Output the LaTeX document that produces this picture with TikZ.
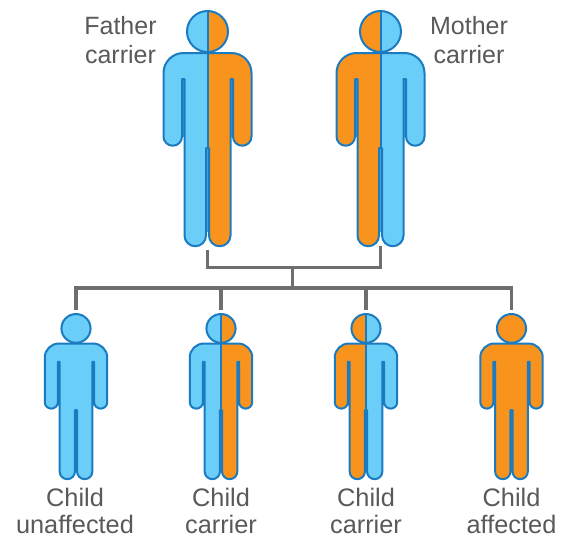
\documentclass[tikz,border=0pt]{standalone}
\usepackage{fontspec}
\setmainfont{Liberation Sans}
\definecolor{skyfill}{HTML}{6ACEF8}
\definecolor{orfill}{HTML}{F8931D}
\definecolor{edgeblue}{HTML}{1B7BC0}
\definecolor{slitblue}{HTML}{4FA6DC}
\definecolor{wire}{HTML}{6D6E70}
\definecolor{txt}{HTML}{58595B}
\tikzset{
  outline/.style={draw=edgeblue,line width=1.5pt,line join=round},
  connector/.style={draw=wire,line width=2.5pt,line join=miter},
  label/.style={text=txt,align=center,inner sep=0pt},
  parentlabel/.style={label,font=\fontsize{18.75pt}{22.3pt}\selectfont},
  childlabel/.style={label,font=\fontsize{19pt}{20.25pt}\selectfont},
}
\newcommand{\bodyshape}{
  (-44,73) arc[start angle=180,end angle=270,radius=20]
  -- (24,53) arc[start angle=270,end angle=360,radius=20]
  -- (44,136.5) arc[start angle=0,end angle=180,radius=9.25]
  -- (25.5,79) -- (23,79) -- (23,235.5)
  arc[start angle=0,end angle=180,radius=10.75]
  -- (1.5,148) -- (-1.5,148) -- (-1.5,235.5)
  arc[start angle=0,end angle=180,radius=10.75]
  -- (-23,79) -- (-25.5,79) -- (-25.5,136.5)
  arc[start angle=0,end angle=180,radius=9.25] -- cycle
}
% #1 name, #2 centre x, #3 y shift, #4 x scale, #5 y scale, #6 left colour, #7 right colour, #8 midline style
\newcommand{\personfig}[8]{
  \begin{scope}[shift={(#2,#3)},xscale=#4,yscale=#5]
    \coordinate (#1top) at (0,11);
    \coordinate (#1foot) at (0,246);
    \fill[slitblue] (-25.5,79) rectangle (-23,137);
    \fill[slitblue] (23,79) rectangle (25.5,137);
    \fill[slitblue] (-1.5,148) rectangle (1.5,232);
    \fill[#6] \bodyshape;
    \fill[#6] (0,31.5) circle[radius=20.5];
    \begin{scope}
      \clip (0,0) rectangle (60,260);
      \fill[#7] \bodyshape;
      \fill[#7] (0,31.5) circle[radius=20.5];
    \end{scope}
    \draw[outline] \bodyshape;
    \draw[outline] (0,31.5) circle[radius=20.5];
    \draw[outline,#8] (0,11) -- (0,148);
  \end{scope}
}
\begin{document}
\begin{tikzpicture}[x=0.75pt,y=-0.75pt]
\useasboundingbox (0,0) rectangle (569,536);
\personfig{fa}{207.5}{0}{1}{1}{skyfill}{orfill}{}
\personfig{mo}{380.5}{0}{1}{1}{orfill}{skyfill}{}
\personfig{ca}{76}{306.3}{0.71}{0.702}{skyfill}{skyfill}{draw=none}
\personfig{cb}{221}{306.3}{0.71}{0.702}{skyfill}{orfill}{}
\personfig{cc}{366}{306.3}{0.71}{0.702}{orfill}{skyfill}{}
\personfig{cd}{511.5}{306.3}{0.71}{0.702}{orfill}{orfill}{draw=none}
\coordinate (join) at (292.5,267.5);
\coordinate (hub) at (292.5,288);
\draw[connector] ([yshift=-3pt]fafoot) |- (join) -| (mofoot);
\draw[connector] (join) -- (hub);
\draw[connector] ([yshift=3pt]catop) |- (hub) -| ([yshift=3pt]cdtop);
\draw[connector] ([yshift=3pt]cbtop) -- (cbtop |- hub);
\draw[connector] ([yshift=3pt]cctop) -- (cctop |- hub);
\node[parentlabel] (lfa) at (120.5,40) {Father\\carrier};
\node[parentlabel] (lmo) at (469,40) {Mother\\carrier};
\node[childlabel] (lca) at (75,511) {Child\\unaffected};
\node[childlabel] (lcb) at (221,511) {Child\\carrier};
\node[childlabel] (lcc) at (366,511) {Child\\carrier};
\node[childlabel] (lcd) at (511.5,511) {Child\\affected};
\end{tikzpicture}
\end{document}
